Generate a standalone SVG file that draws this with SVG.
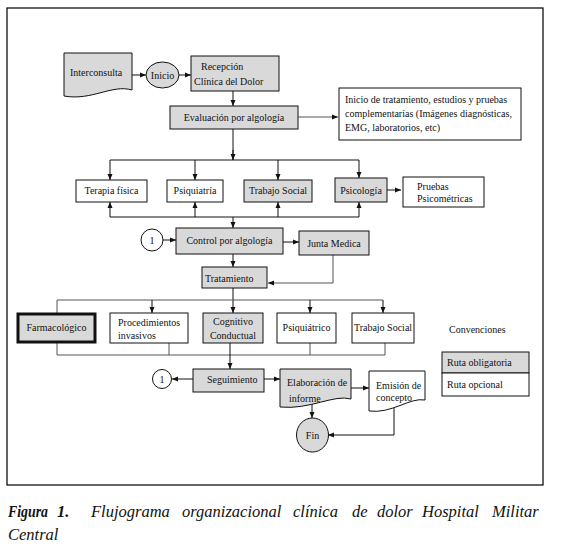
<svg xmlns="http://www.w3.org/2000/svg" width="561" height="551" viewBox="0 0 561 551">
<style>
.t{font-family:"Liberation Serif","Times New Roman",serif;font-size:10px;fill:#111}
.c{text-anchor:middle}
.n{fill:#fff;stroke:#111;stroke-width:1}
.g{fill:#d9d9d9;stroke:#111;stroke-width:1}
.l{fill:none;stroke:#111;stroke-width:1}
.lg{fill:none;stroke:#555;stroke-width:1}
.cap{font-family:"Liberation Serif","Times New Roman",serif;font-size:16.5px;font-style:italic;fill:#111}
.b{font-weight:bold}
</style>
<defs>
<marker id="a" markerWidth="6" markerHeight="6" refX="6" refY="3" orient="auto" markerUnits="userSpaceOnUse"><path d="M0,0.5 L6,3 L0,5.5 Z" fill="#111"/></marker>
</defs>
<rect x="0" y="0" width="561" height="551" fill="#fff"/>
<rect x="7" y="8" width="536" height="477" fill="none" stroke="#111" stroke-width="1.3"/>

<g id="connectors">
<path class="l" d="M132,75 H146" marker-end="url(#a)"/>
<path class="l" d="M179,75 H191" marker-end="url(#a)"/>
<path class="l" d="M233,91 V106" marker-end="url(#a)"/>
<path class="lg" d="M298,117 H338" marker-end="url(#a)"/>
<path class="l" d="M233,129 V160"/>
<path class="l" d="M233,150 V160" marker-end="url(#a)"/>
<path class="l" d="M110,160 H359"/>
<path class="l" d="M110,160 V180" marker-end="url(#a)"/>
<path class="l" d="M195,160 V180" marker-end="url(#a)"/>
<path class="l" d="M278,160 V180" marker-end="url(#a)"/>
<path class="l" d="M359,160 V178" marker-end="url(#a)"/>
<path class="l" d="M387,190 H401" marker-end="url(#a)"/>
<path class="l" d="M110,217 H359"/>
<path class="l" d="M110,217 V202" marker-end="url(#a)"/>
<path class="l" d="M195,217 V202" marker-end="url(#a)"/>
<path class="l" d="M278,217 V202" marker-end="url(#a)"/>
<path class="l" d="M359,217 V202" marker-end="url(#a)"/>
<path class="l" d="M233,217 V228" marker-end="url(#a)"/>
<path class="l" d="M163,240 H176" marker-end="url(#a)"/>
<path class="l" d="M283,242 H299" marker-end="url(#a)"/>
<path class="l" d="M233,254 V267" marker-end="url(#a)"/>
<path class="lg" d="M333,255 V283 H268" marker-end="url(#a)"/>
<path class="l" d="M233,288 V313" marker-end="url(#a)"/>
<path class="lg" d="M57,313 V300 H383"/>
<path class="l" d="M152,300 V313" marker-end="url(#a)"/>
<path class="l" d="M310,300 V313" marker-end="url(#a)"/>
<path class="l" d="M383,300 V313" marker-end="url(#a)"/>
<path class="lg" d="M57,343 V355 H385 V343"/>
<path class="lg" d="M169,343 V355"/>
<path class="lg" d="M310,343 V355"/>
<path class="l" d="M230,343 V369" marker-end="url(#a)"/>
<path class="l" d="M193,379 H172" marker-end="url(#a)"/>
<path class="l" d="M264,379 H280" marker-end="url(#a)"/>
<path class="l" d="M351,388 H369" marker-end="url(#a)"/>
<path class="l" d="M312,404 V418" marker-end="url(#a)"/>
<path class="l" d="M394,407 V435 H328" marker-end="url(#a)"/>
</g>

<g id="interconsulta">
<path class="g" d="M64,53 H132 V90 C112,84 92,101 64,96 Z"/>
<text class="t" x="70" y="75.5">Interconsulta</text>
</g>
<g id="inicio">
<ellipse class="g" cx="162.5" cy="75" rx="16.5" ry="13"/>
<text class="t c" x="162.5" y="78.5">Inicio</text>
</g>
<g id="recepcion">
<rect class="g" x="191" y="56" width="88" height="35"/>
<text class="t" x="201" y="69.5">Recepción</text>
<text class="t" x="194" y="84.5">Clínica del Dolor</text>
</g>
<g id="evaluacion">
<rect class="g" x="170" y="106" width="128" height="23"/>
<text class="t c" x="234" y="121">Evaluación por algología</text>
</g>
<g id="inicio-tratamiento">
<rect class="n" x="339" y="88" width="182" height="52"/>
<text class="t" x="345" y="102.5">Inicio de tratamiento, estudios y pruebas</text>
<text class="t" x="345" y="116.5">complementarias (Imágenes diagnósticas,</text>
<text class="t" x="345" y="130.5">EMG, laboratorios, etc)</text>
</g>
<g id="terapia">
<rect class="n" x="76" y="180" width="71" height="22"/>
<text class="t c" x="111.5" y="194">Terapia física</text>
</g>
<g id="psiquiatria">
<rect class="n" x="167" y="180" width="56" height="22"/>
<text class="t c" x="195" y="194">Psiquiatría</text>
</g>
<g id="trabajo-social-1">
<rect class="g" x="244" y="180" width="68" height="22"/>
<text class="t c" x="278" y="194">Trabajo Social</text>
</g>
<g id="psicologia">
<rect class="g" x="335" y="178" width="52" height="24"/>
<text class="t c" x="361" y="193.5">Psicología</text>
</g>
<g id="pruebas">
<rect class="n" x="403" y="177" width="81" height="30"/>
<text class="t" x="417" y="189.5">Pruebas</text>
<text class="t" x="417" y="201.5">Psicométricas</text>
</g>
<g id="uno-a">
<circle class="n" cx="152" cy="240" r="11"/>
<text class="t c" x="152" y="243.5">1</text>
</g>
<g id="control">
<rect class="g" x="176" y="228" width="107" height="26"/>
<text class="t c" x="229.5" y="244">Control por algología</text>
</g>
<g id="junta">
<rect class="g" x="299" y="231" width="70" height="24"/>
<text class="t c" x="334" y="246.5">Junta Medica</text>
</g>
<g id="tratamiento">
<rect class="g" x="202" y="267" width="65" height="21"/>
<text class="t" x="205" y="281.5">Tratamiento</text>
</g>
<g id="farmacologico">
<rect x="18" y="314" width="77" height="28" fill="#d9d9d9" stroke="#111" stroke-width="3"/>
<text class="t c" x="56.5" y="330.5">Farmacológico</text>
</g>
<g id="procedimientos">
<rect class="n" x="110" y="313" width="78" height="30"/>
<text class="t" x="118" y="325.5">Procedimientos</text>
<text class="t" x="118" y="338.5">invasivos</text>
</g>
<g id="cognitivo">
<rect class="g" x="203" y="313" width="60" height="30"/>
<text class="t c" x="233" y="324.5">Cognitivo</text>
<text class="t c" x="233" y="338.5">Conductual</text>
</g>
<g id="psiquiatrico">
<rect class="n" x="277" y="313" width="59" height="30"/>
<text class="t c" x="306.5" y="330.5">Psiquiátrico</text>
</g>
<g id="trabajo-social-2">
<rect class="n" x="352" y="313" width="62" height="30"/>
<text class="t c" x="383" y="330.5">Trabajo Social</text>
</g>
<g id="uno-b">
<circle class="n" cx="162" cy="379" r="9.5"/>
<text class="t c" x="162" y="382.5">1</text>
</g>
<g id="seguimiento">
<rect class="g" x="193" y="369" width="71" height="23"/>
<text class="t" x="207" y="382.5">Seguimiento</text>
</g>
<g id="elaboracion">
<path class="g" d="M280,369 H351 V399 C334,394 310,410 280,407 Z"/>
<text class="t" x="287" y="385.5">Elaboración de</text>
<text class="t" x="289" y="401.5">informe</text>
</g>
<g id="emision">
<path class="n" d="M369,371 H425 V400 C410,397 392,414 369,411 Z"/>
<text class="t" x="376" y="388.5">Emisión de</text>
<text class="t" x="376" y="400.5">concepto</text>
</g>
<g id="fin">
<ellipse class="g" cx="312.5" cy="435" rx="16" ry="17"/>
<text class="t c" x="312.5" y="438.5">Fin</text>
</g>
<g id="convenciones">
<text class="t" x="449" y="332.5">Convenciones</text>
<rect class="g" x="442" y="352" width="87" height="21"/>
<rect class="n" x="442" y="373" width="87" height="23"/>
<text class="t" x="447" y="365.5">Ruta obligatoria</text>
<text class="t" x="447" y="387.5">Ruta opcional</text>
</g>

<g id="caption">
<text class="cap b" x="8" y="517" textLength="40" lengthAdjust="spacingAndGlyphs">Figura</text>
<text class="cap b" x="57" y="517">1.</text>
<text class="cap" y="517"><tspan x="91">Flujograma</tspan><tspan x="182">organizacional</tspan><tspan x="293">clínica</tspan><tspan x="352">de</tspan><tspan x="377">dolor</tspan><tspan x="422">Hospital</tspan><tspan x="492">Militar</tspan></text>
<text class="cap" x="8" y="540">Central</text>
</g>
</svg>
